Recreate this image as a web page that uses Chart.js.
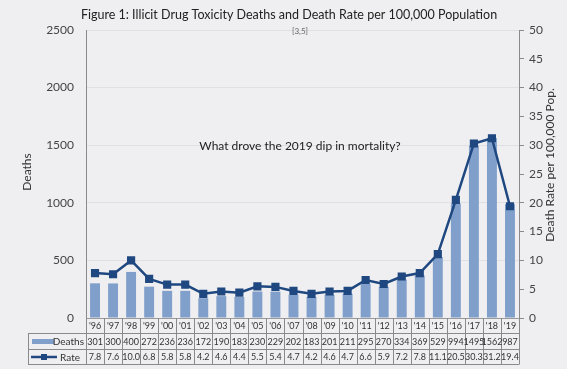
<!DOCTYPE html>
<html>
<head>
<meta charset="utf-8">
<script src="https://cdn.jsdelivr.net/npm/chart.js@4.4.0/dist/chart.umd.min.js"></script>
<style>
  html, body { margin: 0; padding: 0; background: #efeff1; }
  #wrap { width: 567px; height: 369px; position: relative; }
</style>
</head>
<body>
<div id="wrap"><canvas id="chart1"></canvas></div>
<script>
// data
const years = ["'96","'97","'98","'99","'00","'01","'02","'03","'04","'05","'06","'07","'08","'09","'10","'11","'12","'13","'14","'15","'16","'17","'18","'19"];
const deaths = [301,300,400,272,236,236,172,190,183,230,229,202,183,201,211,295,270,334,369,529,994,1495,1562,987];
const rate = [7.8,7.6,10.0,6.8,5.8,5.8,4.2,4.6,4.4,5.5,5.4,4.7,4.2,4.6,4.7,6.6,5.9,7.2,7.8,11.1,20.5,30.3,31.2,19.4];
const deathTicks = [0,500,1000,1500,2000,2500];
const rateTicks = [0,5,10,15,20,25,30,35,40,45,50];

const barColor = "#809fca";
const lineColor = "#1f4780";
const fontFam = "Lato, 'Noto Sans', sans-serif";

// draws title, axis titles, note and the data table under the plot
const extras = {
  id: "extras",
  afterDraw(chart) {
    const ctx = chart.ctx;
    const xs = chart.scales.x;
    const area = chart.chartArea;
    ctx.save();

    ctx.fillStyle = "#222";
    ctx.font = "12.5px " + fontFam;
    ctx.textAlign = "center";
    ctx.textBaseline = "middle";
    ctx.fillText("Figure 1: Illicit Drug Toxicity Deaths and Death Rate per 100,000 Population", 289, 15);

    ctx.fillStyle = "#666";
    ctx.font = "8px " + fontFam;
    ctx.fillText("[3,5]", 300, 31);

    ctx.fillStyle = "#222";
    ctx.font = "12px " + fontFam;
    ctx.fillText("What drove the 2019 dip in mortality?", 300, 146);

    // axis titles
    ctx.fillStyle = "#333";
    ctx.font = "12px " + fontFam;
    ctx.save();
    ctx.translate(27, 172);
    ctx.rotate(-Math.PI / 2);
    ctx.fillText("Deaths", 0, 0);
    ctx.restore();
    ctx.save();
    ctx.translate(550, 165);
    ctx.rotate(-Math.PI / 2);
    ctx.fillText("Death Rate per 100,000 Pop.", 0, 0);
    ctx.restore();

    // table
    const n = years.length;
    const w = (xs.right - xs.left) / n;
    const tLeft = 28, yTop = 333.5, yMid = 349.5, yBot = 364.5;
    ctx.strokeStyle = "#8a8a8a";
    ctx.lineWidth = 1;
    ctx.beginPath();
    ctx.moveTo(tLeft, yTop); ctx.lineTo(xs.right, yTop);
    ctx.moveTo(tLeft, yMid); ctx.lineTo(xs.right, yMid);
    ctx.moveTo(tLeft, yBot); ctx.lineTo(xs.right, yBot);
    ctx.moveTo(tLeft + 0.5, yTop); ctx.lineTo(tLeft + 0.5, yBot);
    for (let i = 0; i <= n; i++) {
      const x = Math.round(xs.left + i * w) + 0.5;
      ctx.moveTo(x, area.bottom); ctx.lineTo(x, yBot);
    }
    ctx.stroke();

    ctx.font = "9px " + fontFam;
    ctx.fillStyle = "#333";
    ctx.textAlign = "center";
    for (let i = 0; i < n; i++) {
      const cx = xs.getPixelForValue(i);
      ctx.fillText(years[i], cx, 326);
      ctx.fillText(String(deaths[i]), cx, 342);
      ctx.fillText(rate[i].toFixed(1), cx, 357.5);
    }

    // legend cells
    ctx.fillStyle = barColor;
    ctx.fillRect(32, 339, 22, 5);
    ctx.strokeStyle = lineColor;
    ctx.lineWidth = 2.5;
    ctx.beginPath();
    ctx.moveTo(31, 357); ctx.lineTo(57, 357);
    ctx.stroke();
    ctx.fillStyle = lineColor;
    ctx.fillRect(41, 354, 6, 6);
    ctx.fillStyle = "#333";
    ctx.font = "10px " + fontFam;
    ctx.textAlign = "right";
    ctx.fillText("Deaths", 84, 342);
    ctx.fillText("Rate", 80, 357.5);

    ctx.restore();
  }
};

new Chart("chart1", {
  data: {
    labels: years,
    datasets: [{
      type: "line",
      label: "Rate",
      data: rate,
      yAxisID: "y1",
      borderColor: lineColor,
      backgroundColor: lineColor,
      borderWidth: 2.5,
      pointStyle: "rect",
      pointRadius: 4,
      tension: 0,
      order: 0
    }, {
      type: "bar",
      label: "Deaths",
      data: deaths,
      yAxisID: "y",
      backgroundColor: barColor,
      barPercentage: 0.55,
      categoryPercentage: 1,
      order: 1
    }]
  },
  plugins: [extras],
  options: {
    responsive: true,
    maintainAspectRatio: false,
    animation: false,
    layout: { padding: { top: 30, bottom: 43, left: 0, right: 0 } },
    plugins: {
      legend: { display: false },
      tooltip: { enabled: false },
      title: { display: false }
    },
    scales: {
      x: {
        ticks: { display: false },
        grid: { display: false },
        border: { display: true, color: "#9a9a9a" }
      },
      y: {
        position: "left",
        min: 0,
        max: 2500,
        afterBuildTicks: (s) => { s.ticks = deathTicks.map(v => ({ value: v })); },
        afterFit: (s) => { s.width = 86; },
        ticks: { color: "#444", font: { size: 12, family: fontFam }, padding: 12, callback: (v) => String(v) },
        grid: { color: "#e0e0e4", drawTicks: false },
        border: { color: "#8a8a8a" }
      },
      y1: {
        position: "right",
        min: 0,
        max: 50,
        afterBuildTicks: (s) => { s.ticks = rateTicks.map(v => ({ value: v })); },
        afterFit: (s) => { s.width = 48; },
        ticks: { color: "#444", font: { size: 12, family: fontFam }, padding: 5, callback: (v) => String(v) },
        grid: { drawOnChartArea: false, tickLength: 5, color: "#8a8a8a" },
        border: { color: "#8a8a8a" }
      }
    }
  }
});
</script>
</body>
</html>
